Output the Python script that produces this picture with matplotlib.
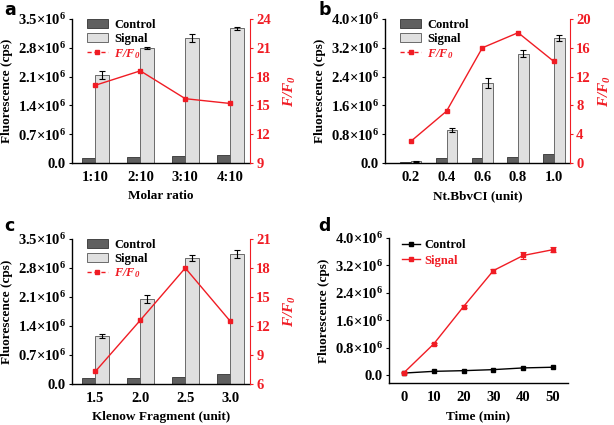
import numpy as np
import matplotlib
matplotlib.use('Agg')
import matplotlib.pyplot as plt
from matplotlib.lines import Line2D
from matplotlib.patches import Patch

plt.rcParams['font.family'] = ['Liberation Serif', 'DejaVu Serif']
plt.rcParams['font.weight'] = 'bold'
plt.rcParams['mathtext.fontset'] = 'custom'
plt.rcParams['mathtext.default'] = 'regular'

# values in units of 1e6 cps
ratio_labels = ['1:10', '2:10', '3:10', '4:10']
ratio_control = [0.12, 0.14, 0.18, 0.20]
ratio_signal = [2.14, 2.79, 3.04, 3.27]
ratio_err = [0.09, 0.03, 0.09, 0.04]
ratio_ff0 = [17.1, 18.6, 15.7, 15.2]

nt_labels = ['0.2', '0.4', '0.6', '0.8', '1.0']
nt_control = [0.02, 0.13, 0.14, 0.17, 0.25]
nt_signal = [0.05, 0.92, 2.22, 3.04, 3.47]
nt_err = [0.01, 0.05, 0.15, 0.10, 0.08]
nt_ff0 = [3.0, 7.2, 16.0, 18.1, 14.1]

kf_labels = ['1.5', '2.0', '2.5', '3.0']
kf_control = [0.14, 0.15, 0.16, 0.24]
kf_signal = [1.15, 2.05, 3.04, 3.14]
kf_err = [0.05, 0.10, 0.08, 0.10]
kf_ff0 = [7.3, 12.6, 18.0, 12.5]

time_min = [0, 10, 20, 30, 40, 50]
time_control = [0.06, 0.11, 0.13, 0.16, 0.21, 0.23]
time_signal = [0.07, 0.91, 2.00, 3.05, 3.49, 3.66]
time_err = [0.02, 0.03, 0.04, 0.06, 0.10, 0.07]

RED = '#f01c24'
TICK = 10.5
W, H = 614, 425
fig = plt.figure(figsize=(W / 100, H / 100), dpi=100)


def px_axes(l, r, t, b):
    return fig.add_axes([l / W, (H - b) / H, (r - l) / W, (b - t) / H])


def sci_labels(ax, ticks):
    ax.set_yticks(ticks)
    ax.set_yticklabels(['0.0' if v == 0 else '%.1f×10$^{6}$' % v for v in ticks])


def style(ax):
    ax.spines['top'].set_visible(False)
    for s in ax.spines.values():
        s.set_linewidth(1.0)
    ax.tick_params(axis='y', labelsize=TICK, length=2.5, width=0.8, pad=2)
    ax.tick_params(axis='x', labelsize=TICK, length=0, pad=6)
    for lab in ax.get_xticklabels() + ax.get_yticklabels():
        lab.set_fontweight('bold')


def bar_panel(ax, labels, control, signal, err, ff0, ylim, yticks, rlim, rticks, xlabel, xlim, rpad=8):
    x = np.arange(len(labels))
    w = 0.3
    ax.bar(x - w / 2, control, w, color='#5f5f5f', edgecolor='#333333', linewidth=0.6)
    ax.bar(x + w / 2, signal, w, color='#e0e0e0', edgecolor='#555555', linewidth=0.6,
           yerr=err, error_kw=dict(ecolor='black', elinewidth=0.8, capsize=2, capthick=0.8))
    ax.set_xticks(x)
    ax.set_xticklabels(labels)
    ax.set_xlim(*xlim)
    ax.set_ylim(*ylim)
    sci_labels(ax, yticks)
    ax.set_xlabel(xlabel, fontsize=9.5, fontweight='bold', labelpad=4)
    ax.set_ylabel('Fluorescence (cps)', fontsize=9.5, fontweight='bold', labelpad=3)
    ax.spines['right'].set_visible(False)
    style(ax)
    ax2 = ax.twinx()
    ax2.plot(x, ff0, color=RED, marker='s', markersize=2.5, linewidth=1.0)
    ax2.set_ylim(*rlim)
    ax2.set_yticks(rticks)
    ax2.spines['right'].set_color(RED)
    ax2.spines['top'].set_visible(False)
    ax2.spines['left'].set_visible(False)
    ax2.spines['bottom'].set_visible(False)
    ax2.tick_params(axis='y', colors=RED, labelsize=TICK, length=2.5, width=0.8, pad=2)
    for lab in ax2.get_yticklabels():
        lab.set_fontweight('bold')
    ax2.set_ylabel('F/F$_0$', color=RED, fontsize=11, fontweight='bold', fontstyle='italic', labelpad=rpad)
    handles = [Patch(facecolor='#5f5f5f', edgecolor='#333333', linewidth=0.6),
               Patch(facecolor='#e0e0e0', edgecolor='#555555', linewidth=0.6),
               Line2D([], [], color=RED, linestyle=(0, (3, 2)), marker='s', markersize=2.5, linewidth=1.0)]
    leg = ax.legend(handles, ['Control', 'Signal', 'F/F$_0$'], loc='upper left',
                    bbox_to_anchor=(0.02, 1.08), frameon=False, fontsize=9,
                    handlelength=1.7, handleheight=0.8, handletextpad=0.5, labelspacing=0.15)
    texts = leg.get_texts()
    for t in texts:
        t.set_fontweight('bold')
    texts[2].set_color(RED)
    texts[2].set_fontstyle('italic')


ax_a = px_axes(72, 250, 19, 163)
bar_panel(ax_a, ratio_labels, ratio_control, ratio_signal, ratio_err, ratio_ff0,
          (0, 3.5), [0, 0.7, 1.4, 2.1, 2.8, 3.5], (9, 24), [9, 12, 15, 18, 21, 24],
          'Molar ratio', (-0.52, 3.44))

ax_b = px_axes(385, 570, 19, 163)
bar_panel(ax_b, nt_labels, nt_control, nt_signal, nt_err, nt_ff0,
          (0, 4.0), [0, 0.8, 1.6, 2.4, 3.2, 4.0], (0, 20), [0, 4, 8, 12, 16, 20],
          'Nt.BbvCI (unit)', (-0.72, 4.45), rpad=4)

ax_c = px_axes(72, 250, 239, 384)
bar_panel(ax_c, kf_labels, kf_control, kf_signal, kf_err, kf_ff0,
          (0, 3.5), [0, 0.7, 1.4, 2.1, 2.8, 3.5], (6, 21), [6, 9, 12, 15, 18, 21],
          'Klenow Fragment (unit)', (-0.52, 3.44))

ax_d = px_axes(389, 568, 238, 383)
ax_d.plot(time_min, time_control, color='black', marker='s', markersize=2.5, linewidth=1.0)
ax_d.errorbar(time_min, time_signal, yerr=time_err, color=RED, marker='s', markersize=2.5,
              linewidth=1.0, elinewidth=0.8, capsize=2, capthick=0.8)
ax_d.set_xlim(-5, 55)
ax_d.set_xticks(time_min)
ax_d.set_ylim(-0.23, 4.0)
sci_labels(ax_d, [0, 0.8, 1.6, 2.4, 3.2, 4.0])
ax_d.spines['right'].set_visible(False)
ax_d.set_xlabel('Time (min)', fontsize=9.5, fontweight='bold', labelpad=4)
ax_d.set_ylabel('Fluorescence (cps)', fontsize=9.5, fontweight='bold', labelpad=3)
style(ax_d)
d_handles = [Line2D([], [], color='black', marker='s', markersize=2.5, linewidth=1.0),
             Line2D([], [], color=RED, marker='s', markersize=2.5, linewidth=1.0)]
leg = ax_d.legend(d_handles, ['Control', 'Signal'], loc='upper left', bbox_to_anchor=(0.01, 1.07),
                  frameon=False, fontsize=9, handlelength=1.4, handletextpad=0.4, labelspacing=0.3)
for t, c in zip(leg.get_texts(), ['black', RED]):
    t.set_fontweight('bold')
    t.set_color(c)

for letter, (px, py) in zip('abcd', [(4, 10), (318, 10), (4, 226), (318, 226)]):
    fig.text(px / W, 1 - py / H, letter, fontsize=12.5, fontweight='bold',
             family='DejaVu Sans', va='center', ha='left')

fig.savefig('out.png', dpi=100)
